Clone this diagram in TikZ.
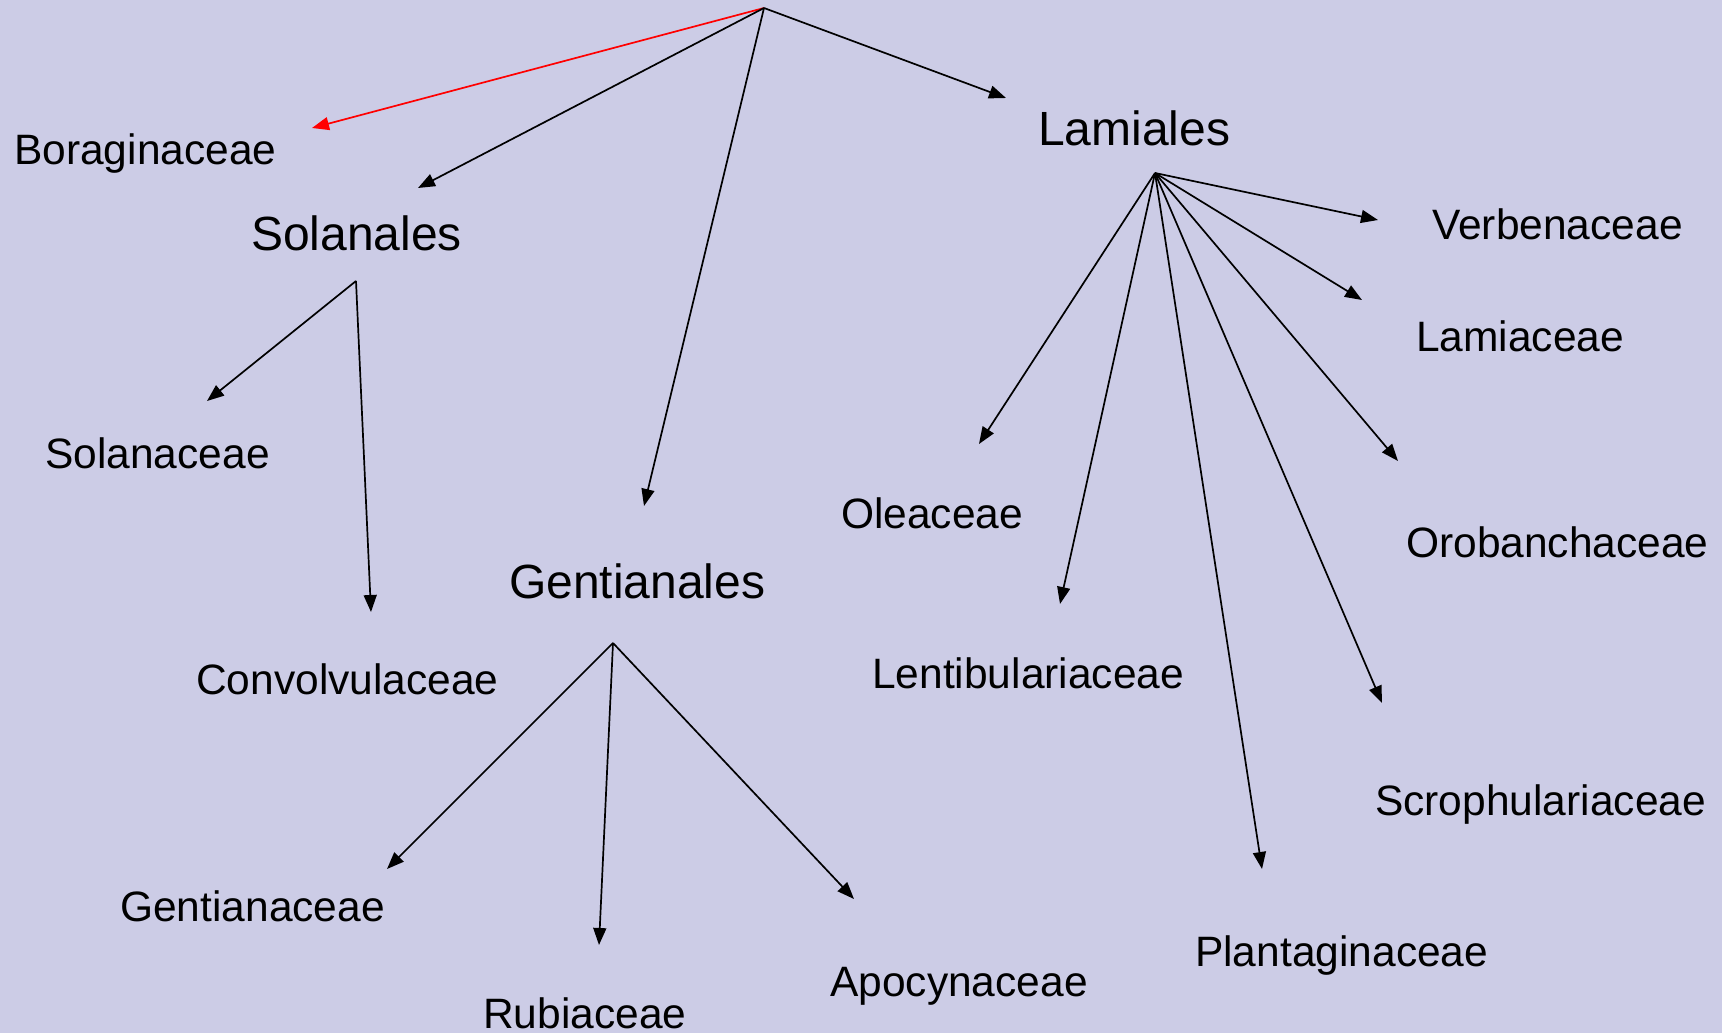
\documentclass[tikz,border=0pt]{standalone}
\usepackage{fontspec}
\setmainfont{Liberation Sans}
\usetikzlibrary{arrows.meta}
\definecolor{bgcol}{RGB}{204,204,230}
\definecolor{redlink}{RGB}{255,0,0}
\begin{document}
\begin{tikzpicture}[x=1pt,y=-1pt,
  lbl/.style={anchor=base west,inner sep=0pt,font=\fontsize{42.5}{50}\selectfont},
  order/.style={anchor=base west,inner sep=0pt,font=\fontsize{48}{56}\selectfont},
  link/.style={line width=1.7pt,line join=miter,-{Triangle[length=17pt,width=13pt]}},
  hot/.style={link,draw=redlink},
]
\fill[bgcol] (0,0) rectangle (1722,1033);
\useasboundingbox (0,0) rectangle (1722,1033);

% labels
\node[lbl]   (bor)  at (14,164)   {Boraginaceae};
\node[order] (sol)  at (251,250)  {Solanales};
\node[order] (lam)  at (1038,145) {Lamiales};
\node[order] (gen)  at (509,598)  {Gentianales};
\node[lbl]   (sola) at (45,468)   {Solanaceae};
\node[lbl]   (conv) at (196,694)  {Convolvulaceae};
\node[lbl]   (gent) at (120,921)  {Gentianaceae};
\node[lbl]   (rub)  at (483,1028) {Rubiaceae};
\node[lbl]   (apo)  at (830,996)  {Apocynaceae};
\node[lbl]   (ole)  at (841,528)  {Oleaceae};
\node[lbl]   (len)  at (872,688)  {Lentibulariaceae};
\node[lbl]   (pla)  at (1195,966) {Plantaginaceae};
\node[lbl]   (scr)  at (1375,815) {Scrophulariaceae};
\node[lbl]   (oro)  at (1406,557) {Orobanchaceae};
\node[lbl]   (lami) at (1416,351) {Lamiaceae};
\node[lbl]   (ver)  at (1432,239) {Verbenaceae};

% branch points and arrow ends
\coordinate (root)    at (764,8);
\coordinate (borTip)  at (312,128);
\coordinate (solTip)  at (418,188);
\coordinate (genTip)  at (644,506);
\coordinate (lamTip)  at (1006,98);
\coordinate (solRoot) at (356,281);
\coordinate (solaTip) at (207,401);
\coordinate (convTip) at (371,612);
\coordinate (genRoot) at (613,643);
\coordinate (gentTip) at (387,869);
\coordinate (rubTip)  at (599,945);
\coordinate (apoTip)  at (854,899);
\coordinate (lamRoot) at (1155,173);
\coordinate (verTip)  at (1378,220);
\coordinate (lamiTip) at (1362,300);
\coordinate (oroTip)  at (1398,461);
\coordinate (scrTip)  at (1382,703);
\coordinate (plaTip)  at (1262,869);
\coordinate (lenTip)  at (1060,604);
\coordinate (oleTip)  at (979,444);

% connectors
\draw[hot]  (root) -- (borTip);
\draw[link] (root) -- (solTip);
\draw[link] (root) -- (genTip);
\draw[link] (root) -- (lamTip);

\draw[link] (solRoot) -- (solaTip);
\draw[link] (solRoot) -- (convTip);

\draw[link] (genRoot) -- (gentTip);
\draw[link] (genRoot) -- (rubTip);
\draw[link] (genRoot) -- (apoTip);

\draw[link] (lamRoot) -- (verTip);
\draw[link] (lamRoot) -- (lamiTip);
\draw[link] (lamRoot) -- (oroTip);
\draw[link] (lamRoot) -- (scrTip);
\draw[link] (lamRoot) -- (plaTip);
\draw[link] (lamRoot) -- (lenTip);
\draw[link] (lamRoot) -- (oleTip);
\end{tikzpicture}
\end{document}
